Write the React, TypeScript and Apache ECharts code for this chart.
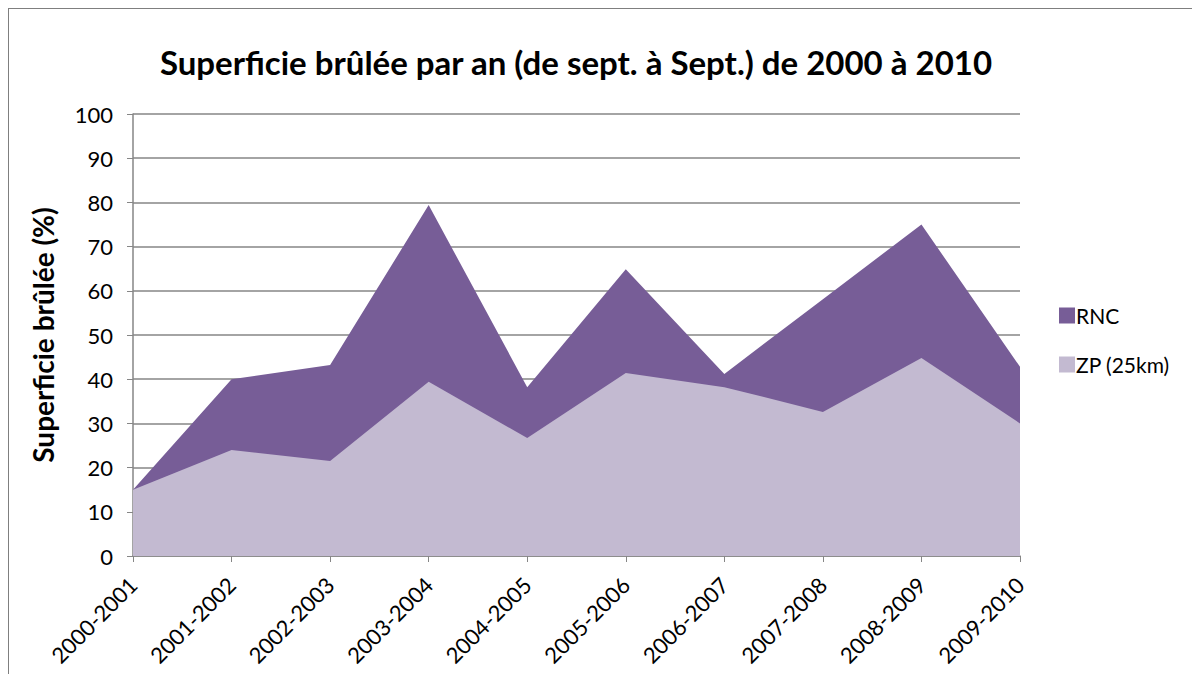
import React, { useEffect, useRef } from "react";
import * as echarts from "echarts";

const categories = [
  "2000-2001", "2001-2002", "2002-2003", "2003-2004", "2004-2005",
  "2005-2006", "2006-2007", "2007-2008", "2008-2009", "2009-2010",
];
const rncValues = [15, 40, 43.2, 79.4, 38.2, 64.9, 41.2, 58.1, 75, 42.8];
const zpValues = [15, 24, 21.5, 39.4, 26.7, 41.4, 38.2, 32.6, 44.8, 30];
const yTicks = { min: 0, max: 100, interval: 10 };

const FONT = "Lato, 'Open Sans', sans-serif";

export default function App() {
  const ref = useRef<HTMLDivElement>(null);
  useEffect(() => {
    if (!ref.current) return;
    const chart = echarts.init(ref.current, null, { renderer: "svg" });
    chart.setOption({
      animation: false,
      backgroundColor: "#ffffff",
      textStyle: { fontFamily: FONT },
      title: {
        text: "Superficie brûlée par an (de sept. à Sept.) de 2000 à 2010",
        left: 571,
        textAlign: "center",
        top: 40,
        textStyle: { fontFamily: FONT, fontWeight: "bold", fontSize: 33, color: "#000" },
      },
      legend: {
        orient: "vertical",
        left: 1054,
        top: 300,
        itemWidth: 16,
        itemHeight: 16,
        itemGap: 28,
        icon: "rect",
        textStyle: { fontFamily: FONT, fontSize: 21, color: "#000", padding: [0, 0, 0, -4] },
        data: ["RNC", "ZP (25km)"],
      },
      grid: { left: 133, right: 180, top: 114, bottom: 126, containLabel: false },
      xAxis: {
        type: "category",
        boundaryGap: false,
        data: categories,
        axisLine: { lineStyle: { color: "#868686", width: 1.5 } },
        axisTick: { show: true, alignWithLabel: true, length: 6, lineStyle: { color: "#868686" } },
        axisLabel: {
          rotate: 45,
          fontSize: 22,
          color: "#000",
          fontFamily: FONT,
          margin: 25,
          interval: 0,
        },
        splitLine: { show: false },
      },
      yAxis: {
        type: "value",
        min: yTicks.min,
        max: yTicks.max,
        interval: yTicks.interval,
        name: "Superficie brûlée (%)",
        nameLocation: "middle",
        nameGap: 76,
        nameRotate: 90,
        nameTextStyle: { fontFamily: FONT, fontWeight: "bold", fontSize: 28, color: "#000" },
        axisLine: { show: true, lineStyle: { color: "#868686", width: 1.5 } },
        axisTick: { show: true, length: 6, lineStyle: { color: "#868686" } },
        axisLabel: { fontSize: 22, color: "#000", fontFamily: FONT, margin: 20 },
        splitLine: { show: true, lineStyle: { color: "#868686", width: 1.5 } },
      },
      graphic: [
        {
          type: "line",
          shape: { x1: 8, y1: 8, x2: 1200, y2: 8 },
          style: { stroke: "#7f7f7f", lineWidth: 2 },
          silent: true,
        },
        {
          type: "line",
          shape: { x1: 8, y1: 8, x2: 8, y2: 680 },
          style: { stroke: "#7f7f7f", lineWidth: 2 },
          silent: true,
        },
      ],
      series: [
        {
          name: "RNC",
          type: "line",
          data: rncValues,
          symbol: "none",
          lineStyle: { width: 0 },
          itemStyle: { color: "#775D97" },
          areaStyle: { color: "#775D97", opacity: 1 },
          z: 2,
        },
        {
          name: "ZP (25km)",
          type: "line",
          data: zpValues,
          symbol: "none",
          lineStyle: { width: 0 },
          itemStyle: { color: "#C3BAD1" },
          areaStyle: { color: "#C3BAD1", opacity: 1 },
          z: 3,
        },
      ],
    });
    return () => chart.dispose();
  }, []);
  return <div ref={ref} style={{ width: 1200, height: 682, margin: -8 }} />;
}
